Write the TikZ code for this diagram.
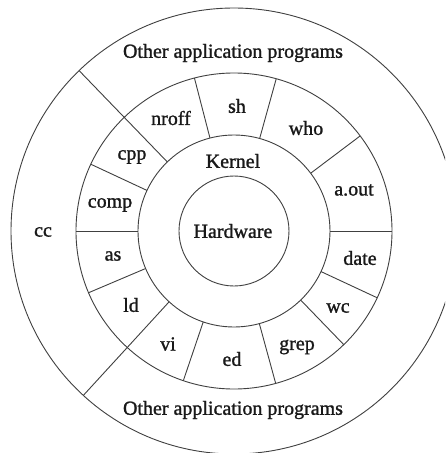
\documentclass[tikz,border=0pt]{standalone}
\usepackage{fontspec}
\setmainfont{Liberation Serif}
% slightly emboldened serif face for all labels
\newfontfamily\labelfont[FakeBold=1.2]{Liberation Serif}
\begin{document}
\begin{tikzpicture}[x=1pt,y=1pt,
  ring/.style={line width=0.9pt, draw=black!75},
  lbl/.style={font=\labelfont\fontsize{20}{24}\selectfont, inner sep=0pt, text=black!90}]
% page frame; the outer ring runs past the right and bottom edges
\useasboundingbox (-234,-222) rectangle (211,231);
\fill[white] (-234,-222) rectangle (211,231);
\clip (-234,-222) rectangle (211,231);

% rings: hardware, kernel, utilities, applications
\draw[ring] (0,0) circle[radius=55];
\draw[ring] (0,0) circle[radius=96];
\draw[ring] (0,0) circle[radius=158];
\draw[ring] (0,0) circle[radius=223];

% dividers between the utility programs
\foreach \a in {0,37,74.5,104.5,155,180,203,251.3,285.3,314,335}
  \draw[ring] (\a:96) -- (\a:158);
% dividers that also cut off the cc sector
\foreach \a in {134,227.5}
  \draw[ring] (\a:96) -- (\a:223);

% labels
\node[lbl] (hw)    at (-1,0)      {Hardware};
\node[lbl] (kern)  at (-1,70)     {Kernel};
\node[lbl] (apptop) at (-1,178)   {Other application programs};
\node[lbl] (appbot) at (-1,-179)  {Other application programs};
\node[lbl] (cc)    at (-191,-1)   {cc};
\node[lbl] (sh)    at (3,125)     {sh};
\node[lbl] (nroff) at (-63,113)   {nroff};
\node[lbl] (who)   at (72,103)    {who};
\node[lbl] (cpp)   at (-102,74)   {cpp};
\node[lbl] (aout)  at (120,41)    {a.out};
\node[lbl] (comp)  at (-124,26)   {comp};
\node[lbl] (as)    at (-121,-25)  {as};
\node[lbl] (date)  at (126,-27)   {date};
\node[lbl] (ld)    at (-103,-74)  {ld};
\node[lbl] (wc)    at (104,-77)   {wc};
\node[lbl] (vi)    at (-66,-113)  {vi};
\node[lbl] (grep)  at (63,-116)   {grep};
\node[lbl] (ed)    at (-2,-128)   {ed};
\end{tikzpicture}
\end{document}
